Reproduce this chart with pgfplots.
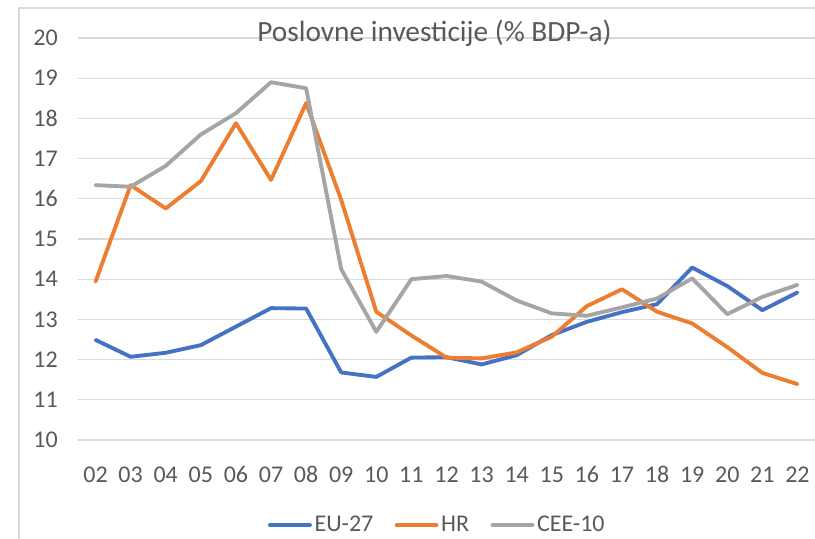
\documentclass[border=0pt]{standalone}
\usepackage{pgfplots}
\pgfplotsset{compat=1.18}
\usepackage{fontspec}
\setmainfont{Carlito}
\definecolor{cblue}{HTML}{4472C4}
\definecolor{corange}{HTML}{ED7D31}
\definecolor{cgray}{HTML}{A5A5A5}
\definecolor{ctext}{HTML}{595959}
\definecolor{cgrid}{HTML}{D9D9D9}
\begin{document}
\begin{tikzpicture}
\useasboundingbox (0,0) rectangle (611.25pt,-404.25pt);
\draw[cgrid, line width=0.8pt] (14.25pt,-405pt) -- (14.25pt,-6pt) -- (612pt,-6pt);
\begin{axis}[
  at={(58.5pt,-330pt)}, anchor=south west,
  scale only axis, width=552.75pt, height=301.5pt,
  xmin=-0.5, xmax=20.5, ymin=10, ymax=20,
  ytick={10,11,...,20},
  xtick={0,1,...,20},
  xticklabels={02,03,04,05,06,07,08,09,10,11,12,13,14,15,16,17,18,19,20,21,22},
  axis line style={draw=none},
  major tick style={draw=none},
  ymajorgrids,
  major grid style={cgrid, line width=0.9pt},
  /pgf/number format/assume math mode=true,
  every tick label/.append style={font=\fontsize{18}{21}\selectfont, text=ctext, inner sep=0pt},
  yticklabel style={anchor=east, xshift=-15pt},
  xticklabel style={anchor=base, yshift=-31.5pt},
  clip=false,
  legend style={draw=none, fill=none, at={(0.488,-0.2114)}, anchor=center,
    font=\fontsize{18}{21}\selectfont, text=ctext,
    /tikz/every even column/.append style={column sep=14pt},
    nodes={inner sep=2pt}},
  legend columns=3,
  legend image code/.code={\draw[#1] (0pt,0pt) -- (30pt,0pt);},
  every axis plot/.append style={line width=2.9pt, line join=round, line cap=round},
]
\addplot[cblue] coordinates {
(0,12.49) (1,12.07) (2,12.17) (3,12.36) (4,12.82) (5,13.28) (6,13.27) (7,11.68) (8,11.57) (9,12.05) (10,12.06) (11,11.88) (12,12.11) (13,12.61) (14,12.94) (15,13.18) (16,13.38) (17,14.29) (18,13.83) (19,13.23) (20,13.67)};
\addlegendentry{EU-27}
\addplot[corange] coordinates {
(0,13.94) (1,16.34) (2,15.76) (3,16.44) (4,17.88) (5,16.47) (6,18.38) (7,15.97) (8,13.19) (9,12.60) (10,12.05) (11,12.03) (12,12.18) (13,12.57) (14,13.33) (15,13.75) (16,13.19) (17,12.90) (18,12.31) (19,11.67) (20,11.39)};
\addlegendentry{HR}
\addplot[cgray] coordinates {
(0,16.34) (1,16.30) (2,16.82) (3,17.60) (4,18.13) (5,18.90) (6,18.75) (7,14.25) (8,12.69) (9,14.00) (10,14.08) (11,13.94) (12,13.47) (13,13.15) (14,13.09) (15,13.30) (16,13.52) (17,14.02) (18,13.13) (19,13.56) (20,13.86)};
\addlegendentry{CEE-10}
\end{axis}
\node[anchor=base, font=\fontsize{22}{26}\selectfont, text=ctext, inner sep=0pt] at (325.9pt,-31.3pt) {Poslovne investicije (\% BDP-a)};
\end{tikzpicture}
\end{document}
